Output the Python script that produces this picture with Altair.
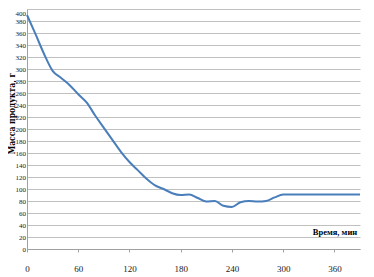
import altair as alt
import pandas as pd

times = [0, 10, 20, 30, 40, 50, 60, 70, 80, 90, 100, 110, 120, 130, 140, 150,
         160, 170, 180, 190, 200, 210, 220, 230, 240, 250, 260, 270, 280, 290,
         300, 310, 320, 330, 340, 350, 360, 370, 380, 390]
mass = [390, 358, 325, 297, 285, 273, 258, 244, 222, 202, 182, 162, 145, 131, 117, 106,
        100, 93, 90, 91, 85, 79, 80, 72, 70, 78, 80, 79, 80, 86,
        91, 91, 91, 91, 91, 91, 91, 91, 91, 91]
x_ticks = [0, 60, 120, 180, 240, 300, 360]
y_ticks = list(range(0, 401, 20))

df = pd.DataFrame({"t": times, "m": mass})

label_font = "Liberation Sans Narrow"

line = alt.Chart(df).mark_line(color="#4a7ebb", strokeWidth=2, interpolate="monotone").encode(
    x=alt.X("t:Q", scale=alt.Scale(domain=[0, 390], nice=False, zero=True),
            axis=alt.Axis(values=x_ticks, title=None, grid=False, tickSize=3,
                          tickColor="#a0a0a0", domainColor="#a0a0a0",
                          labelPadding=12, labelFont=label_font, labelFontSize=9,
                          labelColor="#222222", labelFlush=False)),
    y=alt.Y("m:Q", scale=alt.Scale(domain=[0, 400], nice=False),
            axis=alt.Axis(values=y_ticks, ticks=False, labelPadding=1.5,
                          labelFont=label_font, labelFontSize=7, labelColor="#222222",
                          labelBaseline={"condition": {"test": "datum.value == 400", "value": "top"},
                                         "value": "middle"},
                          domainColor="#a0a0a0", gridColor="#c0c0c0",
                          title="Масса продукта, г", titleFont="DejaVu Serif Condensed",
                          titleFontSize=8.5, titleFontWeight="bold", titleColor="#000000",
                          titleX=-10.5, titleY=104, titleAngle=-90, titleAlign="center",
                          titleBaseline="bottom", labelFlush=False)),
)

ann = alt.Chart(pd.DataFrame({"txt": ["Время, мин"]})).mark_text(
    font=label_font, fontSize=8.5, fontWeight="bold", color="#000000",
    align="center", baseline="middle"
).encode(text="txt:N", x=alt.value(308), y=alt.value(223))

chart = alt.layer(line, ann).properties(
    width=333, height=240,
    autosize=alt.AutoSizeParams(type="none"),
    padding={"left": 19, "top": 1, "right": 6, "bottom": 26},
).configure_view(stroke=None)

chart.save("out.html", embed_options={"renderer": "svg", "actions": False})
